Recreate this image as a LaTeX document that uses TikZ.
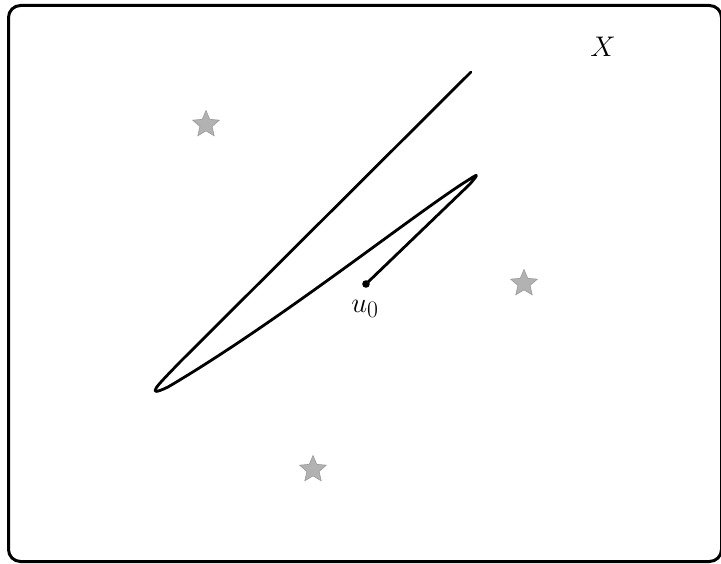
\documentclass[tikz,border=0pt]{standalone}
\usepackage{graphicx}
\usetikzlibrary{shapes.geometric}
\tikzset{
  frame/.style={line width=3pt, rounded corners=12pt},
  curve/.style={line width=2.8pt, line join=round, line cap=round},
  gstar/.style={star, star points=5, star point ratio=2.2, minimum size=28pt, inner sep=0pt, fill=black!30, draw=black!40, line width=0.6pt},
  lbl/.style={font=\fontsize{24.88}{30}\selectfont, inner sep=0pt}
}
\newcommand{\biglbl}[1]{\scalebox{1.14}{#1}}
\begin{document}
\begin{tikzpicture}[x=1pt,y=-1pt]
\useasboundingbox (0,0) rectangle (721,564);
\draw[frame] (8.5,5.5) rectangle (721.5,561.5);
\node[gstar] (s1) at (206,124.5) {};
\node[gstar] (s2) at (524,283.5) {};
\node[gstar] (s3) at (313,469.5) {};
\coordinate (u0) at (366,284);
\coordinate (top) at (471,72);
\draw[curve] (top) -- (180,362) .. controls (158,385) and (143,399) .. (168,387)
  .. controls (275,324) and (400,225) .. (462,184)
  .. controls (478,174) and (481,171) .. (470,184) -- (u0);
\fill (u0) circle (3.8pt);
\node[lbl] (ulab) at (365,309) {\biglbl{$u_0$}};
\node[lbl] (xlab) at (603,47) {\biglbl{$X$}};
\end{tikzpicture}
\end{document}
